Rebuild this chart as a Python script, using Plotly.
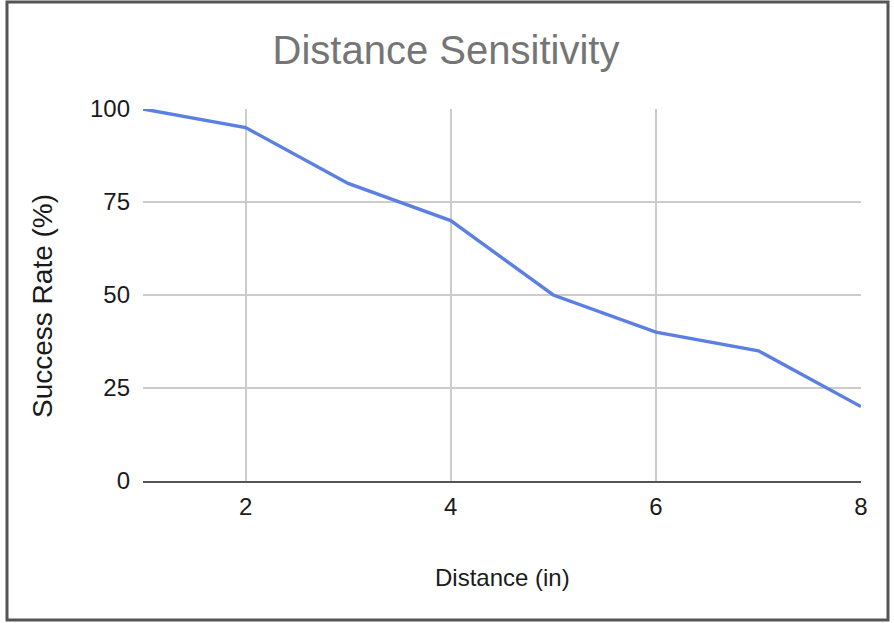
import plotly.graph_objects as go

distance = [1, 2, 3, 4, 5, 6, 7, 8]
success_rate = [100, 95, 80, 70, 50, 40, 35, 20]
x_ticks = [2, 4, 6, 8]
y_ticks = [0, 25, 50, 75, 100]

W, H = 894, 623
L, R, T, B = 143, 33, 109, 142
pw, ph = W - L - R, H - T - B

def px_x(p):
    return (p - L) / pw

def px_y(p):
    return (H - B - p) / ph

FONT = "Liberation Sans, Arial, sans-serif"

fig = go.Figure()
fig.add_trace(go.Scatter(
    x=distance, y=success_rate, mode="lines",
    line=dict(color="#5b7fe3", width=3.4),
    cliponaxis=False, showlegend=False,
))

fig.update_layout(
    width=W, height=H,
    margin=dict(l=L, r=R, t=T, b=B),
    paper_bgcolor="white", plot_bgcolor="white",
    font=dict(family=FONT, color="#222222"),
    title=dict(text="Distance Sensitivity", x=(446) / W, xanchor="center",
               y=1 - 50 / H, yanchor="middle",
               font=dict(family=FONT, size=40, color="#757575")),
    xaxis=dict(range=[1, 8], tickvals=x_ticks, showgrid=True, gridcolor="#cccccc",
               gridwidth=1.5, zeroline=False, showline=True, linecolor="#555555",
               linewidth=2, ticks="", tickfont=dict(size=24, color="#1a1a1a"),
               ticklabelstandoff=3),
    yaxis=dict(range=[0, 100], tickvals=y_ticks, showgrid=True, gridcolor="#cccccc",
               gridwidth=1.5, zeroline=False, showline=False, ticks="",
               tickfont=dict(size=24, color="#1a1a1a"), ticklabelstandoff=12),
    annotations=[
        dict(text="Distance (in)", xref="paper", yref="paper",
             x=px_x(502), y=px_y(577), xanchor="center", yanchor="middle",
             showarrow=False, font=dict(family=FONT, size=24, color="#1a1a1a")),
        dict(text="Success Rate (%)", xref="paper", yref="paper",
             x=px_x(42), y=px_y(306), xanchor="center", yanchor="middle",
             textangle=-90, showarrow=False,
             font=dict(family=FONT, size=28, color="#1a1a1a")),
    ],
    shapes=[
        dict(type="rect", xref="paper", yref="paper",
             x0=px_x(7), x1=px_x(888), y0=px_y(2), y1=px_y(620),
             line=dict(color="#555555", width=3), layer="above"),
    ],
)

fig.write_html("out.html")
